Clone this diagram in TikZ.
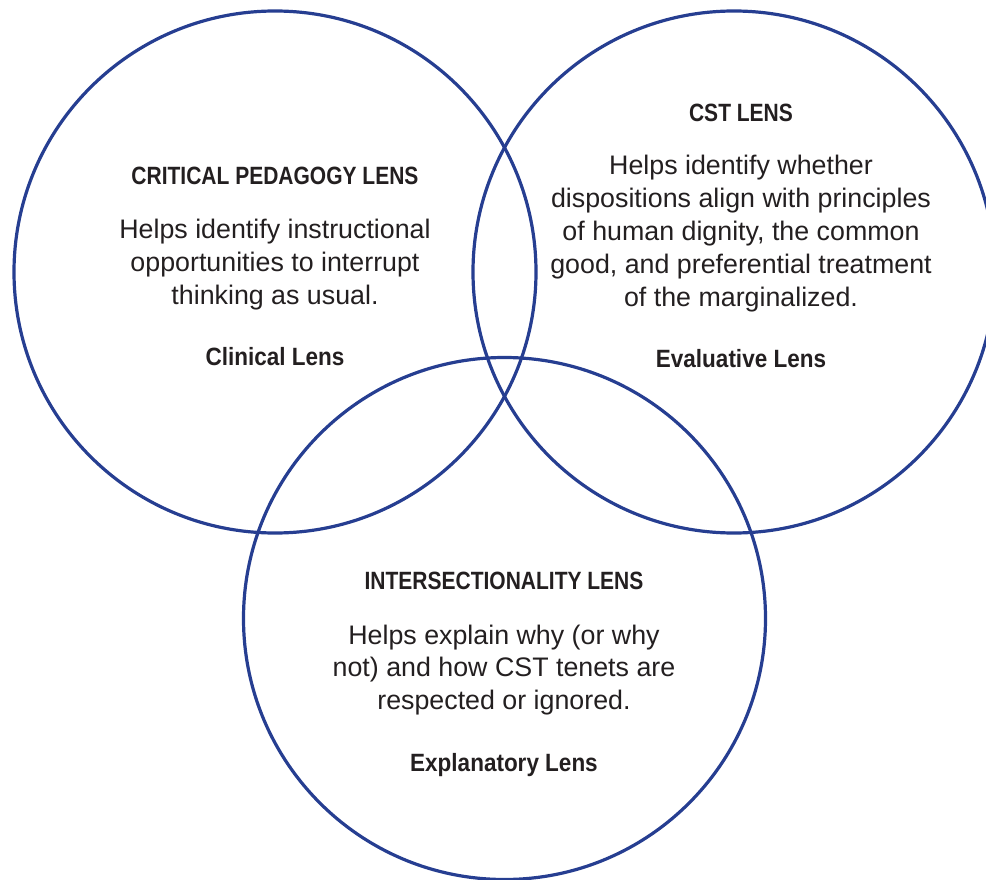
\documentclass[tikz,border=0pt]{standalone}
\usepackage{fontspec}
\setmainfont{Liberation Sans}
\newfontfamily\headfont{Liberation Sans}[FakeStretch=0.84]
\newfontfamily\subfont{Liberation Sans}[FakeStretch=0.90]
\definecolor{ringblue}{RGB}{38,62,145}
\definecolor{inkgray}{RGB}{35,31,32}
\tikzset{
  ring/.style={circle, draw=ringblue, line width=3.2pt, minimum size=522pt, inner sep=0pt},
  headtxt/.style={anchor=base, inner sep=0pt, text=inkgray, font=\headfont\bfseries\fontsize{25}{30}\selectfont},
  bodytxt/.style={anchor=base, inner sep=0pt, text=inkgray, font=\fontsize{26.8}{32}\selectfont},
  subtxt/.style={anchor=base, inner sep=0pt, text=inkgray, font=\subfont\bfseries\fontsize{25}{30}\selectfont}
}
\begin{document}
\begin{tikzpicture}[x=1pt,y=-1pt]
\useasboundingbox (0,0) rectangle (986,880);
\node[ring] (cpl) at (275,272) {};
\node[ring] (cst) at (734,272) {};
\node[ring] (isl) at (504.5,618.5) {};
% left
\node[headtxt] (cplT) at (275,185) {CRITICAL PEDAGOGY LENS};
\node[bodytxt] (cplA) at (275,238) {Helps identify instructional};
\node[bodytxt] (cplB) at (275,271) {opportunities to interrupt};
\node[bodytxt] (cplC) at (275,304) {thinking as usual.};
\node[subtxt] (cplS) at (275,365) {Clinical Lens};
% right
\node[headtxt] (cstT) at (741,122) {CST LENS};
\node[bodytxt] (cstA) at (741,175) {Helps identify whether};
\node[bodytxt] (cstB) at (741,207.5) {dispositions align with principles};
\node[bodytxt] (cstC) at (741,240.5) {of human dignity, the common};
\node[bodytxt] (cstD) at (741,273) {good, and preferential treatment};
\node[bodytxt] (cstE) at (741,306) {of the marginalized.};
\node[subtxt] (cstS) at (741,367) {Evaluative Lens};
% bottom
\node[headtxt] (islT) at (504,589) {INTERSECTIONALITY LENS};
\node[bodytxt] (islA) at (504,644) {Helps explain why (or why};
\node[bodytxt] (islB) at (504,676.5) {not) and how CST tenets are};
\node[bodytxt] (islC) at (504,709) {respected or ignored.};
\node[subtxt] (islS) at (504,771) {Explanatory Lens};
\end{tikzpicture}
\end{document}
